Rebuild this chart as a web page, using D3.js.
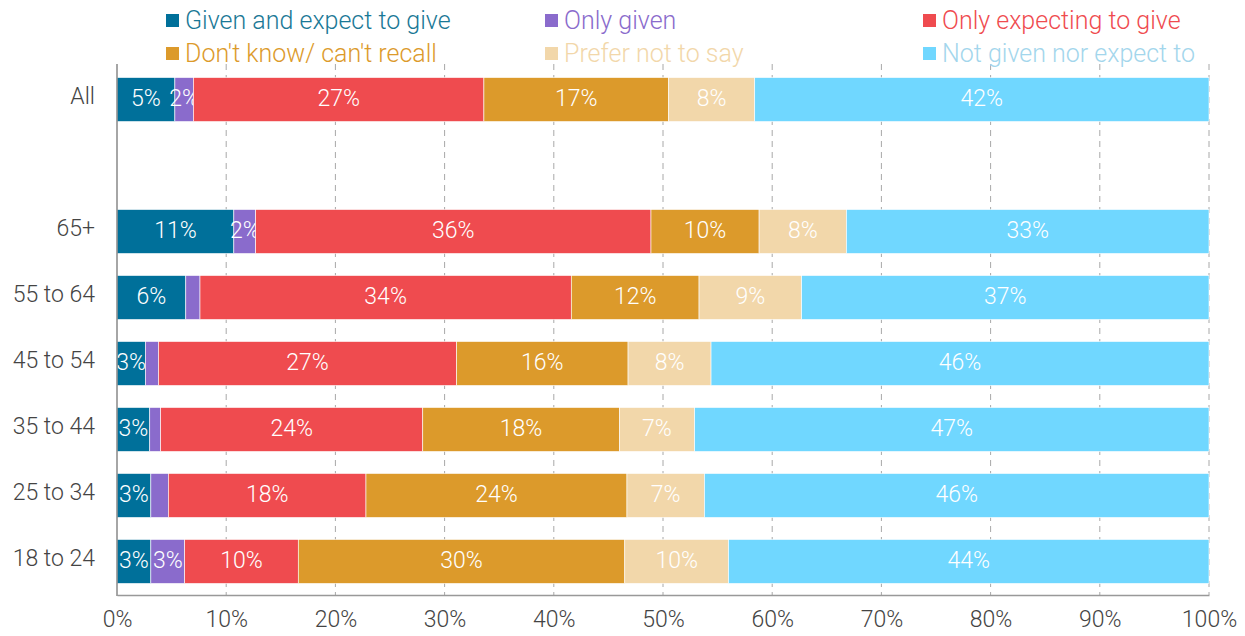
<!DOCTYPE html>
<html>
<head>
<meta charset="utf-8">
<script src="https://cdn.jsdelivr.net/npm/d3@7"></script>
<style>
  body { margin: 0; background: #fff; }
  svg { font-family: Roboto, "Open Sans", sans-serif; }
</style>
</head>
<body>
<div class="chart"></div>
<script>
const width = 1245;
const height = 636;

// groups, top to bottom ("" is the empty gap row)
const groups = ["All", "", "65+", "55 to 64", "45 to 54", "35 to 44", "25 to 34", "18 to 24"];
const seriesNames = [
  "Given and expect to give",
  "Only given",
  "Only expecting to give",
  "Don't know/ can't recall",
  "Prefer not to say",
  "Not given nor expect to"
];
const seriesColors = ["#00709a", "#8a6bcc", "#ef4b4f", "#dc9a2b", "#f2d7aa", "#70d7ff"];
const legendTextColors = ["#1a7896", "#8a6bcc", "#ef4b4f", "#dc9a2b", "#f2d7aa", "#a3d6ec"];

// values (%) per series, in the order of groups
const givenAndExpect = [5.3, null, 10.7, 6.3, 2.6, 3.0, 3.1, 3.1];
const onlyGiven      = [1.7, null, 2.0, 1.3, 1.2, 1.0, 1.6, 3.1];
const onlyExpecting  = [26.6, null, 36.2, 34.0, 27.3, 24.0, 18.1, 10.4];
const dontKnow       = [16.9, null, 9.9, 11.7, 15.7, 18.0, 23.9, 29.9];
const preferNot      = [7.9, null, 8.0, 9.4, 7.6, 6.9, 7.1, 9.5];
const notGiven       = [41.6, null, 33.2, 37.3, 45.6, 47.1, 46.2, 44.0];

const xTicks = [0, 10, 20, 30, 40, 50, 60, 70, 80, 90, 100];

const seriesValues = [givenAndExpect, onlyGiven, onlyExpecting, dontKnow, preferNot, notGiven];

const rows = groups.map((g, i) => {
  const r = { group: g };
  seriesNames.forEach((s, j) => r[s] = seriesValues[j][i] || 0);
  return r;
});

const stacked = d3.stack().keys(seriesNames)(rows);

const x = d3.scaleLinear().domain([0, 100]).range([117, 1209]);
const y = d3.scaleBand().domain(groups).range([66, 595]).paddingInner(1 / 3).paddingOuter(0.175);
const color = d3.scaleOrdinal().domain(seriesNames).range(seriesColors);

const svg = d3.select(".chart")
  .append("svg")
  .attr("width", width)
  .attr("height", height);

// dashed grid
svg.append("g")
  .selectAll("line")
  .data(xTicks.slice(1))
  .enter()
  .append("line")
  .attr("x1", d => x(d))
  .attr("x2", d => x(d))
  .attr("y1", 64)
  .attr("y2", 595)
  .attr("stroke", "#a8a8a8")
  .attr("stroke-width", 1)
  .attr("stroke-dasharray", "6,5");

// bars
const layer = svg.append("g")
  .selectAll("g")
  .data(stacked)
  .enter()
  .append("g")
  .attr("fill", d => color(d.key));

layer.selectAll("rect")
  .data(d => d.filter(p => p.data.group !== ""))
  .enter()
  .append("rect")
  .attr("x", d => x(d[0]))
  .attr("y", d => y(d.data.group))
  .attr("width", d => x(d[1]) - x(d[0]))
  .attr("height", y.bandwidth())
  .attr("stroke", "#fff")
  .attr("stroke-width", 0.6);

// value labels
layer.selectAll("text")
  .data(d => d.filter(p => p.data.group !== "" && p[1] - p[0] >= 1.7))
  .enter()
  .append("text")
  .attr("x", d => (x(d[0]) + x(d[1])) / 2)
  .attr("y", d => y(d.data.group) + y.bandwidth() / 2)
  .attr("dy", "0.28em")
  .attr("text-anchor", "middle")
  .attr("fill", "#fff")
  .attr("font-size", "23px")
  .attr("font-weight", 300)
  .text(d => Math.round(d[1] - d[0]) + "%");

// axes
const xAxis = svg.append("g")
  .attr("transform", "translate(0,595)")
  .call(d3.axisBottom(x).tickValues(xTicks).tickFormat(d => d + "%").tickSize(0).tickPadding(16));
xAxis.select(".domain").attr("stroke", "#999").attr("stroke-width", 1.5);
xAxis.selectAll("text").attr("font-size", "23px").attr("font-family", "Roboto, sans-serif")
  .attr("font-weight", 300).attr("fill", "#444");

const yAxis = svg.append("g")
  .attr("transform", "translate(117,0)")
  .call(d3.axisLeft(y).tickSize(0).tickPadding(22));
yAxis.select(".domain").attr("stroke", "#888").attr("stroke-width", 1.5)
  .attr("d", "M0,64V596");
yAxis.selectAll("text").attr("font-size", "23px").attr("font-family", "Roboto, sans-serif")
  .attr("font-weight", 300).attr("fill", "#444").attr("dy", "0.2em");

// legend, three columns by two rows
const legendCols = [166, 545, 923];
const legendRows = [20, 53];
const legend = svg.append("g")
  .selectAll("g")
  .data(seriesNames)
  .enter()
  .append("g")
  .attr("transform", (d, i) => `translate(${legendCols[i % 3]},${legendRows[Math.floor(i / 3)]})`);

legend.append("rect")
  .attr("x", 0)
  .attr("y", -6)
  .attr("width", 13)
  .attr("height", 13)
  .attr("fill", d => color(d));

legend.append("text")
  .attr("x", 19)
  .attr("y", 0)
  .attr("dy", "0.35em")
  .attr("font-size", "25px")
  .attr("font-weight", 300)
  .attr("fill", (d, i) => legendTextColors[i])
  .text(d => d);
</script>
</body>
</html>
